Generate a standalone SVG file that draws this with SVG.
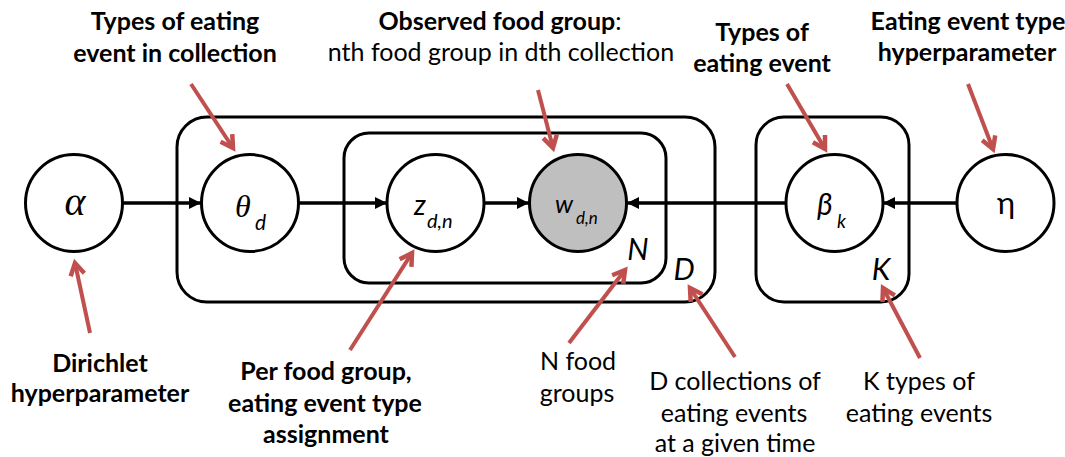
<svg xmlns="http://www.w3.org/2000/svg" width="1065" height="457" viewBox="0 0 1065 457">
  <style>
    .plate { fill: none; stroke: #000; stroke-width: 3; }
    .node { fill: #fff; stroke: #000; stroke-width: 3; }
    .observed { fill: #bfbfbf; stroke: #000; stroke-width: 3; }
    .edge { stroke: #000; stroke-width: 3.5; fill: none; marker-end: url(#head); }
    .note { stroke: #c0504d; stroke-width: 4; fill: none; marker-end: url(#redhead); }
    .lbl { font-family: Lato, "Open Sans", sans-serif; font-size: 25px; fill: #000; text-anchor: middle; }
    .b { font-weight: bold; }
    .greek { font-family: "Liberation Serif", serif; font-style: italic; fill: #000; }
    .sym { font-family: Lato, "Open Sans", sans-serif; font-style: italic; fill: #000; }
    .plabel { font-family: Lato, "Open Sans", sans-serif; font-style: italic; font-size: 30px; fill: #000; text-anchor: middle; }
  </style>
  <defs>
    <marker id="head" viewBox="0 0 12 12" refX="12" refY="6" markerWidth="12" markerHeight="12" markerUnits="userSpaceOnUse" orient="auto">
      <path d="M0,0 L12,6 L0,12 Z" fill="#000"/>
    </marker>
    <marker id="redhead" viewBox="0 0 16 16" refX="13" refY="8" markerWidth="16" markerHeight="16" markerUnits="userSpaceOnUse" orient="auto" overflow="visible">
      <path d="M1,1 L13,8 L1,15" fill="none" stroke="#c0504d" stroke-width="4.5" stroke-linejoin="miter"/>
    </marker>
  </defs>

  <!-- plates -->
  <g id="plate-D"><rect class="plate" x="177" y="117" width="538" height="185" rx="30"/><text class="plabel" x="684" y="280">D</text></g>
  <g id="plate-N"><rect class="plate" x="344" y="133" width="322" height="150" rx="25"/><text class="plabel" x="638" y="260">N</text></g>
  <g id="plate-K"><rect class="plate" x="756" y="117" width="153" height="185" rx="28"/><text class="plabel" x="881" y="280">K</text></g>

  <!-- connectors -->
  <g id="connectors">
    <line class="edge" x1="123" y1="203" x2="201" y2="203"/>
    <line class="edge" x1="299" y1="203" x2="387" y2="203"/>
    <line class="edge" x1="484" y1="203" x2="529" y2="203"/>
    <line class="edge" x1="786" y1="203" x2="627" y2="203"/>
    <line class="edge" x1="957" y1="203" x2="883" y2="203"/>
  </g>

  <!-- nodes -->
  <g id="node-alpha">
    <circle class="node" cx="74" cy="203" r="48.5"/>
    <text class="greek" x="75" y="215" font-size="40" text-anchor="middle">α</text>
  </g>
  <g id="node-theta">
    <circle class="node" cx="250" cy="203" r="48.5"/>
    <text class="greek" x="235" y="217" font-size="32">θ</text>
    <text class="sym" x="255" y="230" font-size="21">d</text>
  </g>
  <g id="node-z">
    <circle class="node" cx="435.5" cy="203" r="48.5"/>
    <text class="sym" x="414" y="215" font-size="28">z</text>
    <text class="sym" x="427" y="228" font-size="20">d,n</text>
  </g>
  <g id="node-w">
    <circle class="observed" cx="578" cy="203" r="48.5"/>
    <text class="sym" x="555" y="213" font-size="25">w</text>
    <text class="sym" x="576" y="224" font-size="17">d,n</text>
  </g>
  <g id="node-beta">
    <circle class="node" cx="834.5" cy="203" r="48.5"/>
    <text class="sym" x="817" y="215" font-size="30">β</text>
    <text class="sym" x="837" y="228" font-size="19">k</text>
  </g>
  <g id="node-eta">
    <circle class="node" cx="1005.5" cy="203" r="48.5"/>
    <text x="1006" y="214" font-family="Lato, 'Open Sans', sans-serif" font-size="31" text-anchor="middle" fill="#000">η</text>
  </g>

  <!-- annotation arrows -->
  <g id="annotation-arrows">
    <line class="note" x1="191" y1="84" x2="233" y2="148"/>
    <line class="note" x1="538" y1="90" x2="553" y2="148"/>
    <line class="note" x1="787" y1="84" x2="825" y2="149"/>
    <line class="note" x1="968" y1="84" x2="993" y2="149"/>
    <line class="note" x1="90" y1="333" x2="75" y2="263"/>
    <line class="note" x1="350" y1="350" x2="412" y2="253"/>
    <line class="note" x1="569" y1="343" x2="625" y2="270"/>
    <line class="note" x1="735" y1="357" x2="690" y2="288"/>
    <line class="note" x1="920" y1="358" x2="883" y2="288"/>
  </g>

  <!-- annotation texts -->
  <g id="label-theta">
    <text class="lbl b" x="175" y="30">Types of eating</text>
    <text class="lbl b" x="175" y="62">event in collection</text>
  </g>
  <g id="label-w">
    <text class="lbl" x="500" y="30"><tspan class="b">Observed food group</tspan>:</text>
    <text class="lbl" x="501" y="61">nth food group in dth collection</text>
  </g>
  <g id="label-beta">
    <text class="lbl b" x="762" y="41">Types of</text>
    <text class="lbl b" x="762" y="72">eating event</text>
  </g>
  <g id="label-eta">
    <text class="lbl b" x="968" y="30">Eating event type</text>
    <text class="lbl b" x="967" y="61">hyperparameter</text>
  </g>
  <g id="label-alpha">
    <text class="lbl b" x="100" y="372">Dirichlet</text>
    <text class="lbl b" x="100" y="402">hyperparameter</text>
  </g>
  <g id="label-z">
    <text class="lbl b" x="326" y="380">Per food group,</text>
    <text class="lbl b" x="325" y="412">eating event type</text>
    <text class="lbl b" x="326" y="443">assignment</text>
  </g>
  <g id="label-N">
    <text class="lbl" x="578" y="370">N food</text>
    <text class="lbl" x="577" y="402">groups</text>
  </g>
  <g id="label-D">
    <text class="lbl" x="735" y="390">D collections of</text>
    <text class="lbl" x="734" y="422">eating events</text>
    <text class="lbl" x="735" y="452">at a given time</text>
  </g>
  <g id="label-K">
    <text class="lbl" x="919" y="390">K types of</text>
    <text class="lbl" x="919" y="422">eating events</text>
  </g>
</svg>
